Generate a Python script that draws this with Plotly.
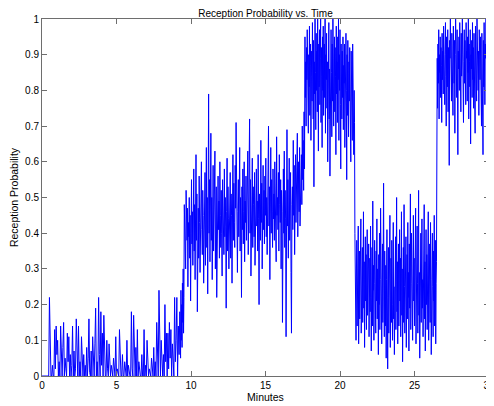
import numpy as np
import plotly.graph_objects as go

# Segment time boundaries (minutes)
segment_edges = [0.0, 9.3, 9.55, 17.65, 21.0, 26.5, 30.0]

# 0 - 9.3 min : sparse low reception
quiet_vals = [
    0, 0, 0, 0, 0, 0, 0, 0, 0,
    0.0, 0.22, 0.05, 0.0, 0.0, 0.03, 0.0, 0.0, 0.13, 0.02,
    0.14, 0.06, 0.1, 0.0, 0.04, 0.0, 0.14, 0.03, 0.0, 0.08,
    0.15, 0.0, 0.05, 0.02, 0.0, 0.12, 0.04, 0.11, 0.0, 0.06,
    0.0, 0.03, 0.14, 0.0, 0.07, 0.0, 0.02, 0.16, 0.05, 0.0,
    0.14, 0.0, 0.04, 0.0, 0.11, 0.02, 0.0, 0.06, 0.0, 0.03,
    0.0, 0.08, 0.0, 0.05, 0.16, 0.01, 0.0, 0.07, 0.0, 0.11,
    0.02, 0.0, 0.09, 0.19, 0.0, 0.04, 0.0, 0.22, 0.06, 0.0,
    0.18, 0.03, 0.12, 0.0, 0.17, 0.05, 0.0, 0.0, 0.1, 0.02,
    0.0, 0.09, 0.0, 0.0, 0.03, 0.0, 0.0, 0.05, 0.0, 0.0,
    0.11, 0.0, 0.02, 0.0, 0.0, 0.13, 0.04, 0.0, 0.0, 0.06,
    0.0, 0.0, 0.04, 0.0, 0.0, 0.1, 0.0, 0.03, 0.0, 0.0,
    0.0, 0.18, 0.02, 0.0, 0.17, 0.05, 0.0, 0.08, 0.0, 0.13,
    0.0, 0.04, 0.0, 0.0, 0.0, 0.06, 0.0, 0.0, 0.13, 0.0,
    0.03, 0.0, 0.1, 0.0, 0.0, 0.02, 0.0, 0.0, 0.05, 0.0,
    0.0, 0.08, 0.0, 0.04, 0.0, 0.15, 0.02, 0.0, 0.24, 0.07,
    0.0, 0.1, 0.03, 0.0, 0.06, 0.0, 0.2, 0.04, 0.12, 0.0,
    0.12, 0.02, 0.15, 0.05, 0.13, 0.0, 0.09, 0.03, 0.0, 0.22,
    0.04, 0.1, 0.22, 0.0, 0.14, 0.06, 0.18,
]

# 9.3 - 9.55 min : ramp up
ramp_vals = [0.05, 0.24, 0.1, 0.2, 0.08, 0.26, 0.15, 0.3, 0.12, 0.22]

# 9.55 - 17.65 min : medium reception
mid_vals = [
    0.48, 0.36, 0.44, 0.30, 0.52, 0.41, 0.38, 0.47, 0.25, 0.43, 0.39, 0.50, 0.33, 0.45, 0.21, 0.40, 0.55, 0.37, 0.46, 0.31,
    0.42, 0.58, 0.35, 0.48, 0.27, 0.44, 0.62, 0.38, 0.51, 0.18, 0.40, 0.47, 0.33, 0.56, 0.43, 0.29, 0.49, 0.37, 0.60, 0.41,
    0.34, 0.52, 0.45, 0.26, 0.48, 0.39, 0.57, 0.31, 0.44, 0.64, 0.36, 0.50, 0.23, 0.46, 0.79, 0.40, 0.55, 0.32, 0.47, 0.68,
    0.38, 0.50, 0.27, 0.45, 0.59, 0.35, 0.48, 0.42, 0.63, 0.30, 0.46, 0.53, 0.22, 0.44, 0.37, 0.56, 0.41, 0.49, 0.33, 0.60,
    0.45, 0.36, 0.52, 0.40, 0.28, 0.55, 0.43, 0.47, 0.34, 0.58, 0.39, 0.50, 0.42, 0.19, 0.46, 0.61, 0.35, 0.53, 0.44, 0.30,
    0.48, 0.40, 0.57, 0.33, 0.51, 0.45, 0.26, 0.49, 0.62, 0.38, 0.54, 0.43, 0.36, 0.59, 0.47, 0.71, 0.41, 0.52, 0.29, 0.46,
    0.55, 0.39, 0.48, 0.64, 0.35, 0.50, 0.44, 0.22, 0.53, 0.41, 0.58, 0.37, 0.46, 0.60, 0.32, 0.49, 0.43, 0.56, 0.38, 0.52,
    0.45, 0.63, 0.34, 0.51, 0.47, 0.72, 0.40, 0.55, 0.28, 0.49, 0.44, 0.61, 0.36, 0.53, 0.48, 0.39, 0.57, 0.31, 0.50, 0.46,
    0.58, 0.42, 0.49, 0.35, 0.62, 0.44, 0.20, 0.51, 0.47, 0.38, 0.66, 0.43, 0.54, 0.30, 0.48, 0.59, 0.41, 0.52, 0.37, 0.56,
    0.45, 0.61, 0.39, 0.50, 0.34, 0.57, 0.48, 0.70, 0.42, 0.53, 0.27, 0.49, 0.64, 0.40, 0.55, 0.46, 0.36, 0.58, 0.44, 0.51,
    0.38, 0.60, 0.47, 0.53, 0.32, 0.67, 0.45, 0.50, 0.41, 0.57, 0.35, 0.62, 0.48, 0.43, 0.55, 0.30, 0.52, 0.46, 0.15, 0.49,
    0.58, 0.40, 0.63, 0.36, 0.52, 0.44, 0.11, 0.47, 0.69, 0.42, 0.55, 0.33, 0.50, 0.61, 0.38, 0.46, 0.57, 0.29, 0.12, 0.48,
    0.53, 0.41, 0.66, 0.45, 0.59, 0.34, 0.50, 0.62, 0.43, 0.56, 0.48, 0.68, 0.39, 0.54, 0.60, 0.46, 0.64, 0.42, 0.57, 0.51,
    0.62, 0.48, 0.70, 0.55, 0.66, 0.52, 0.74, 0.58,
]

# 17.65 - 21.0 min : high reception
high1_vals = [
    0.95, 0.78, 0.88, 0.70, 0.92, 0.83, 0.97, 0.75, 0.86, 0.68, 0.90, 0.81, 0.98, 0.73, 0.87, 0.93, 0.66, 0.84, 0.91, 0.77,
    0.99, 0.82, 0.72, 0.94, 0.53, 0.88, 0.79, 1.0, 0.85, 0.69, 0.96, 0.80, 0.91, 0.74, 1.0, 0.86, 0.63, 0.93, 0.81, 0.97,
    0.76, 0.89, 1.0, 0.71, 0.92, 0.84, 0.64, 0.95, 0.80, 0.98, 0.73, 0.87, 0.93, 0.78, 1.0, 0.68, 0.90, 0.83, 0.96, 0.75,
    0.88, 0.60, 0.94, 0.81, 0.99, 0.72, 0.86, 0.56, 0.91, 0.79, 0.97, 0.85, 0.67, 0.93, 0.77, 1.0, 0.82, 0.70, 0.89, 0.95,
    0.74, 0.92, 0.84, 0.62, 0.98, 0.79, 0.88, 0.71, 0.95, 0.83, 1.0, 0.66, 0.90, 0.80, 0.97, 0.76, 0.58, 0.93, 0.86, 0.72,
    0.91, 0.78, 0.95, 0.69, 0.87, 0.82, 0.93, 0.64, 0.89, 0.75, 0.96, 0.80, 0.55, 0.90, 0.73, 0.94, 0.84, 0.67, 0.88, 0.77,
    0.92, 0.70, 0.86, 0.60, 0.91, 0.79, 0.85, 0.66, 0.93, 0.74, 0.88, 0.62, 0.80, 0.71,
]

# 21.0 - 26.5 min : low reception
low_vals = [
    0.40, 0.18, 0.33, 0.10, 0.28, 0.38, 0.14, 0.31, 0.22, 0.42, 0.09, 0.27, 0.35, 0.16, 0.30, 0.24, 0.44, 0.12, 0.29, 0.20,
    0.36, 0.15, 0.26, 0.46, 0.19, 0.32, 0.08, 0.28, 0.39, 0.21, 0.34, 0.13, 0.25, 0.41, 0.17, 0.30, 0.23, 0.37, 0.11, 0.27,
    0.33, 0.18, 0.42, 0.22, 0.07, 0.29, 0.36, 0.14, 0.49, 0.24, 0.31, 0.10, 0.26, 0.38, 0.19, 0.28, 0.12, 0.35, 0.21, 0.44,
    0.16, 0.30, 0.25, 0.06, 0.34, 0.20, 0.40, 0.13, 0.27, 0.47, 0.18, 0.32, 0.09, 0.23, 0.37, 0.15, 0.29, 0.54, 0.21, 0.11,
    0.35, 0.24, 0.14, 0.31, 0.05, 0.27, 0.41, 0.17, 0.02, 0.22, 0.36, 0.12, 0.28, 0.19, 0.45, 0.08, 0.26, 0.33, 0.15, 0.38,
    0.20, 0.10, 0.30, 0.43, 0.16, 0.25, 0.06, 0.34, 0.22, 0.39, 0.13, 0.28, 0.50, 0.18, 0.32, 0.09, 0.24, 0.37, 0.14, 0.29,
    0.41, 0.21, 0.33, 0.11, 0.26, 0.46, 0.17, 0.30, 0.04, 0.23, 0.36, 0.15, 0.48, 0.25, 0.12, 0.32, 0.20, 0.39, 0.08, 0.27,
    0.34, 0.16, 0.43, 0.22, 0.29, 0.07, 0.37, 0.19, 0.31, 0.51, 0.13, 0.26, 0.40, 0.18, 0.35, 0.10, 0.28, 0.45, 0.21, 0.33,
    0.14, 0.38, 0.24, 0.47, 0.09, 0.30, 0.20, 0.42, 0.26, 0.12, 0.35, 0.52, 0.17, 0.29, 0.05, 0.33, 0.23, 0.40, 0.15, 0.31,
    0.44, 0.19, 0.27, 0.11, 0.36, 0.25, 0.48, 0.16, 0.32, 0.07, 0.28, 0.41, 0.20, 0.34, 0.13, 0.38, 0.24, 0.46, 0.10, 0.30,
    0.22, 0.37, 0.15, 0.43, 0.27, 0.06, 0.33, 0.19, 0.40, 0.25, 0.11, 0.35, 0.21, 0.45, 0.14, 0.29, 0.38, 0.09, 0.26, 0.32,
]

# 26.5 - 30 min : high reception
high2_vals = [
    0.66, 0.89, 0.75, 0.93, 0.82, 0.97, 0.72, 0.90, 0.85, 0.95, 0.78, 0.92, 0.87, 0.71, 0.96, 0.83, 0.91, 0.79, 0.98, 0.86,
    0.93, 0.76, 0.90, 0.99, 0.84, 0.70, 0.95, 0.88, 0.81, 0.97, 0.74, 0.92, 0.86, 0.59, 0.94, 0.89, 1.0, 0.80, 0.91, 0.77,
    0.96, 0.85, 0.92, 0.73, 0.98, 0.87, 0.82, 0.94, 0.68, 0.90, 1.0, 0.83, 0.93, 0.78, 0.97, 0.88, 0.62, 0.91, 0.86, 0.95,
    0.80, 0.99, 0.87, 0.92, 0.74, 0.96, 0.84, 0.90, 1.0, 0.79, 0.93, 0.71, 0.88, 0.97, 0.82, 0.94, 0.86, 0.76, 0.99, 0.89,
    0.91, 0.77, 0.95, 0.85, 1.0, 0.72, 0.93, 0.88, 0.81, 0.97, 0.65, 0.90, 0.86, 0.94, 0.78, 0.99, 0.83, 0.92, 0.75, 0.96,
    0.87, 0.93, 0.68, 0.98, 0.84, 0.90, 0.77, 1.0, 0.86, 0.94, 0.80, 0.91, 0.73, 0.97, 0.88, 0.83, 0.95, 0.79, 0.92, 0.70,
    0.96, 0.85, 0.91, 0.62, 0.94, 0.81, 0.99, 0.87, 0.76, 0.93, 0.89, 1.0, 0.82, 0.95, 0.74, 0.90, 0.86, 0.97, 0.79, 0.88,
]

x_ticks = [0, 5, 10, 15, 20, 25, 30]
y_ticks = [0, 0.1, 0.2, 0.3, 0.4, 0.5, 0.6, 0.7, 0.8, 0.9, 1]
y_tick_labels = ["0", "0.1", "0.2", "0.3", "0.4", "0.5", "0.6", "0.7", "0.8", "0.9", "1"]

segments = [quiet_vals, ramp_vals, mid_vals, high1_vals, low_vals, high2_vals]
t_all, y_all = [], []
for i, vals in enumerate(segments):
    last = i == len(segments) - 1
    t = np.linspace(segment_edges[i], segment_edges[i + 1], len(vals), endpoint=last)
    t_all.extend(t.tolist())
    y_all.extend(vals)

FONT = "Liberation Sans, Arial, sans-serif"
AX = "#6e6e6e"

# The page body has an 8px default margin; the figure is offset by it.
W, H = 494, 406

fig = go.Figure(
    go.Scatter(x=t_all, y=y_all, mode="lines",
               line=dict(color="#0000ff", width=1.0), hoverinfo="skip")
)

axis_common = dict(
    showgrid=False, zeroline=False, showline=True, mirror="ticks",
    linecolor=AX, linewidth=1, ticks="inside", ticklen=5, tickcolor=AX,
    tickfont=dict(family=FONT, size=10, color="#000"),
)

fig.update_layout(
    width=W, height=H,
    margin=dict(l=34, r=13, t=11, b=38),
    paper_bgcolor="white", plot_bgcolor="white",
    showlegend=False,
    title=dict(text="Reception Probability vs. Time", x=0.5, xref="paper",
               y=1 - 5 / H, yref="container", yanchor="middle",
               font=dict(family=FONT, size=10, color="#000")),
    xaxis=dict(range=[0, 30], tickvals=x_ticks, ticktext=[str(v) for v in x_ticks],
               title=dict(text="Minutes", standoff=2, font=dict(family=FONT, size=10.5, color="#000")),
               automargin=False, **axis_common),
    yaxis=dict(range=[0, 1], tickvals=y_ticks, ticktext=y_tick_labels,
               title=dict(text="Reception Probability", standoff=4, font=dict(family=FONT, size=10.5, color="#000")),
               automargin=False, **axis_common),
)

fig.write_html("out.html")
